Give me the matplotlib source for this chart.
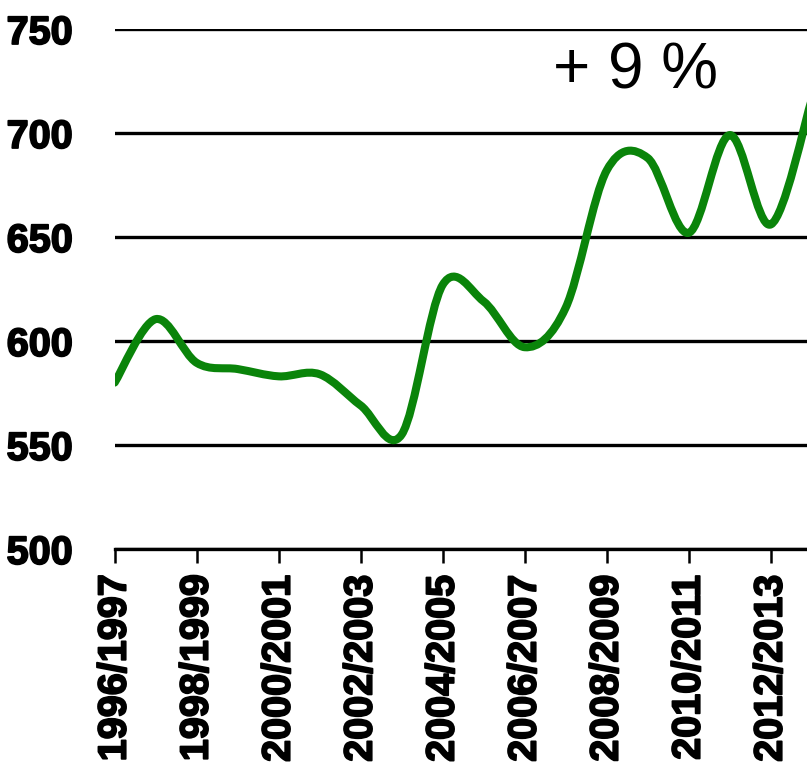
import matplotlib
matplotlib.use("Agg")
import matplotlib.pyplot as plt
import matplotlib.patheffects as pe
from matplotlib.path import Path
from matplotlib.patches import PathPatch

# yearly values
seasons = ["1996/1997", "1997/1998", "1998/1999", "1999/2000", "2000/2001",
           "2001/2002", "2002/2003", "2003/2004", "2004/2005", "2005/2006",
           "2006/2007", "2007/2008", "2008/2009", "2009/2010", "2010/2011",
           "2011/2012", "2012/2013", "2013/2014"]
values = [580, 610.5, 589.5, 586.5, 583, 584, 569, 555, 627, 619,
          597, 616, 682, 688, 652, 699, 656, 716]
y_ticks = [500, 550, 600, 650, 700, 750]
note = "+ 9 %"

plt.rcParams['font.family'] = ['Liberation Sans', 'DejaVu Sans']

fig = plt.figure(figsize=(8.07, 7.65), dpi=100)
ax = fig.add_axes([0.1421, 0.2824, 0.8579, 0.6797])

# smoothed line: cubic bezier through every yearly point (like a spreadsheet "smoothed line")
xs = list(range(len(values)))
n = len(values)
verts = [(xs[0], values[0])]
codes = [Path.MOVETO]
for i in range(n - 1):
    x0, y0 = xs[max(i - 1, 0)], values[max(i - 1, 0)]
    x1, y1 = xs[i], values[i]
    x2, y2 = xs[i + 1], values[i + 1]
    x3, y3 = xs[min(i + 2, n - 1)], values[min(i + 2, n - 1)]
    verts += [(x1 + (x2 - x0) / 6, y1 + (y2 - y0) / 6),
              (x2 - (x3 - x1) / 6, y2 - (y3 - y1) / 6),
              (x2, y2)]
    codes += [Path.CURVE4] * 3
line = PathPatch(Path(verts, codes), facecolor='none', edgecolor='#0a840a',
                 linewidth=5.8, capstyle='round', joinstyle='round', zorder=3)
ax.add_patch(line)

ax.set_xlim(0, (807 - 114.7) / 41.0)
ax.set_ylim(500, 750)

heavy = [pe.withStroke(linewidth=1.3, foreground='black')]

ax.set_yticks(y_ticks)
ax.set_yticklabels([str(v) for v in y_ticks], fontsize=28.5, fontweight='bold')
ax.tick_params(axis='y', length=0, pad=30)

ax.set_xticks(xs[0:17:2])
ax.set_xticklabels(seasons[0:17:2], rotation=90, fontsize=28.5, fontweight='bold')
ax.tick_params(axis='x', length=10, width=1.8, color='black', pad=8)

for lab in ax.get_xticklabels() + ax.get_yticklabels():
    lab.set_path_effects(heavy)

ax.yaxis.grid(True, color='black', linewidth=2.4)
ax.xaxis.grid(False)
ax.set_axisbelow(True)

for s in ['left', 'right', 'top']:
    ax.spines[s].set_visible(False)
ax.spines['bottom'].set_linewidth(2.4)
ax.spines['bottom'].set_color('black')

ax.text(10.69, 721.6, note, fontsize=46, ha='left', va='baseline', zorder=4)

fig.savefig("out.png", dpi=100)
